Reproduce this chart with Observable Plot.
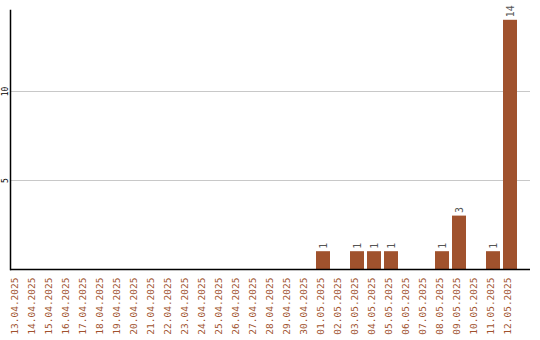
<!DOCTYPE html>
<html>
<head>
<meta charset="utf-8">
<script src="https://cdn.jsdelivr.net/npm/d3@7"></script>
<script src="https://cdn.jsdelivr.net/npm/@observablehq/plot@0.6"></script>
<style>
  html, body { margin: 0; padding: 0; background: #fff; }
  svg { display: block; }
</style>
</head>
<body>
<div id="chart"></div>
<script>
// Daily counts, 13 April – 12 May 2025
const dates = [
  "13.04.2025", "14.04.2025", "15.04.2025", "16.04.2025", "17.04.2025",
  "18.04.2025", "19.04.2025", "20.04.2025", "21.04.2025", "22.04.2025",
  "23.04.2025", "24.04.2025", "25.04.2025", "26.04.2025", "27.04.2025",
  "28.04.2025", "29.04.2025", "30.04.2025", "01.05.2025", "02.05.2025",
  "03.05.2025", "04.05.2025", "05.05.2025", "06.05.2025", "07.05.2025",
  "08.05.2025", "09.05.2025", "10.05.2025", "11.05.2025", "12.05.2025"
];
const counts = [
  0, 0, 0, 0, 0,
  0, 0, 0, 0, 0,
  0, 0, 0, 0, 0,
  0, 0, 0, 1, 0,
  1, 1, 1, 0, 0,
  1, 3, 0, 1, 14
];
const yTicks = [5, 10];

const rows = dates.map((d, i) => ({date: d, count: counts[i]}));
const nonZero = rows.filter(r => r.count > 0);

const barColor = "#a0522d";
const mono = "'DejaVu Sans Mono', 'Liberation Mono', monospace";

const chart = Plot.plot({
  width: 540,
  height: 340,
  marginLeft: 10,
  marginRight: 10,
  marginTop: 10,
  marginBottom: 71,
  style: {fontFamily: mono, background: "#fff"},
  x: {domain: dates, range: [8, 519], paddingInner: 0.18, paddingOuter: 0.09, axis: null},
  y: {domain: [0, 14.55], axis: null},
  marks: [
    Plot.ruleY(yTicks, {stroke: "#c8c8c8", strokeWidth: 1}),
    Plot.barY(nonZero, {x: "date", y: "count", fill: barColor}),
    Plot.text(nonZero, {
      x: "date", y: "count", text: d => String(d.count),
      rotate: -90, textAnchor: "start", dy: -3,
      fill: "#555", fontSize: 10
    }),
    Plot.text(rows, {
      x: "date", frameAnchor: "bottom", text: "date",
      rotate: -90, textAnchor: "end", dy: 8,
      fill: barColor, fontSize: 9.5
    }),
    Plot.text(yTicks, {
      y: d => d, frameAnchor: "left", text: d => String(d),
      rotate: -90, textAnchor: "middle", dx: -5,
      fill: "#000", fontSize: 8
    }),
    Plot.ruleY([0], {stroke: "#000", strokeWidth: 1.5}),
    Plot.frame({anchor: "left", stroke: "#000", strokeWidth: 1.5})
  ]
});

document.getElementById("chart").appendChild(chart);
</script>
</body>
</html>
